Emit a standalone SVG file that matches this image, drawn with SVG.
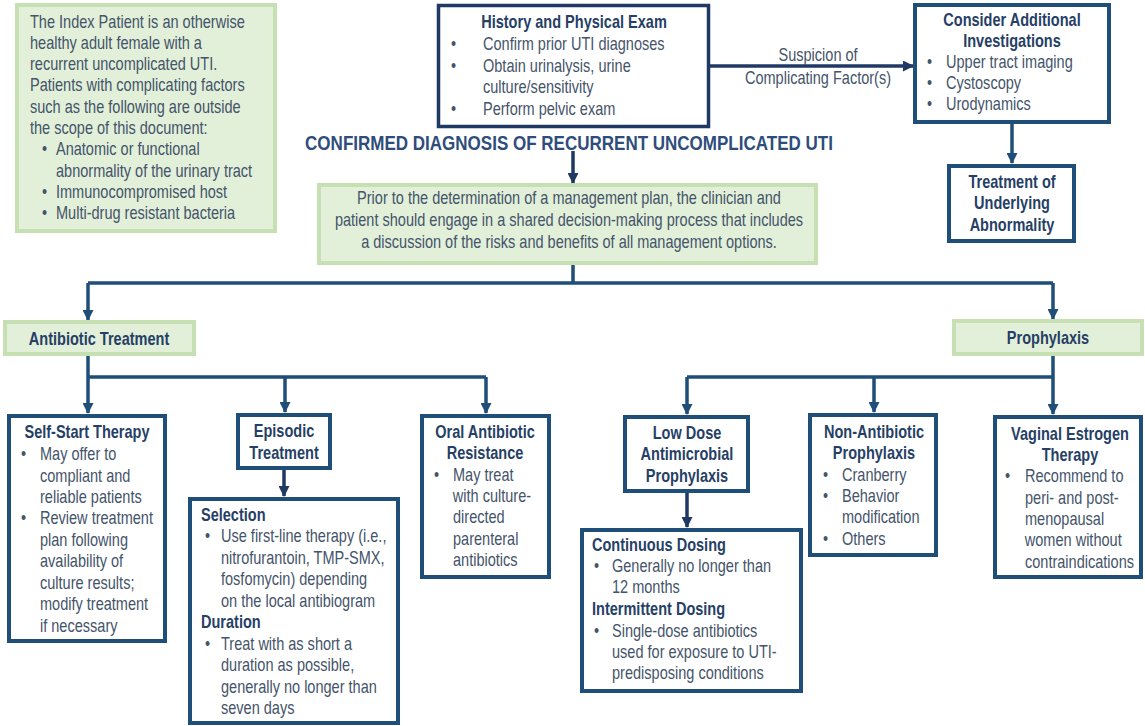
<svg xmlns="http://www.w3.org/2000/svg" width="1145" height="726" viewBox="0 0 1145 726">
<style>
text{font-family:"Liberation Sans",Arial,sans-serif;font-size:17.5px;fill:#44546a;transform-box:fill-box;transform-origin:0% 50%;transform:scaleX(.83)}
.t{font-weight:bold;fill:#263f66}
.c{text-anchor:middle;transform-origin:50% 50%}
.g{fill:#e2efd9;stroke:#c6e0b4;stroke-width:4}
.b{fill:#fff;stroke:#1f4e79;stroke-width:4}
.d{fill:#fff;stroke:#1f3864;stroke-width:3.5}
.ln{fill:none;stroke:#1f4e79;stroke-width:3.5}
.dk{fill:none;stroke:#1f3864;stroke-width:3.5}
</style>
<defs>
<marker id="ah" markerUnits="userSpaceOnUse" markerWidth="11" markerHeight="11" refX="10" refY="5.5" orient="auto"><path d="M0,0 L11,5.5 L0,11 z" fill="#1f4e79"/></marker>
<marker id="ahd" markerUnits="userSpaceOnUse" markerWidth="11" markerHeight="11" refX="10" refY="5.5" orient="auto"><path d="M0,0 L11,5.5 L0,11 z" fill="#1f3864"/></marker>
</defs>

<g id="connectors">
<path class="dk" d="M710,66 H913" marker-end="url(#ahd)"/>
<path class="ln" d="M1012,124 V163" marker-end="url(#ah)"/>
<path class="dk" d="M573,151 V183" marker-end="url(#ahd)"/>
<path class="ln" d="M573,265 V283 M88,283 H1053"/>
<path class="ln" d="M88,283 V320" marker-end="url(#ah)"/>
<path class="ln" d="M1053,283 V319" marker-end="url(#ah)"/>
<path class="ln" d="M88,355 V413" marker-end="url(#ah)"/>
<path class="ln" d="M88,377 H486"/>
<path class="ln" d="M285,377 V412" marker-end="url(#ah)"/>
<path class="ln" d="M486,377 V413" marker-end="url(#ah)"/>
<path class="dk" d="M284,470 V496" marker-end="url(#ahd)"/>
<path class="ln" d="M1053,355 V414" marker-end="url(#ah)"/>
<path class="ln" d="M687,377 H1053"/>
<path class="ln" d="M687,377 V414" marker-end="url(#ah)"/>
<path class="ln" d="M874,377 V412" marker-end="url(#ah)"/>
<path class="dk" d="M687,493 V527" marker-end="url(#ahd)"/>
<text class="c" x="818" y="61">Suspicion of</text>
<text class="c" x="818" y="84">Complicating Factor(s)</text>
</g>

<g id="index-patient">
<rect class="g" x="17" y="5" width="258" height="226"/>
<text x="30" y="28">The Index Patient is an otherwise</text>
<text x="30" y="49">healthy adult female with a</text>
<text x="30" y="70">recurrent uncomplicated UTI.</text>
<text x="30" y="91">Patients with complicating factors</text>
<text x="30" y="113">such as the following are outside</text>
<text x="30" y="134">the scope of this document:</text>
<text x="42" y="155">•</text><text x="56" y="155">Anatomic or functional</text>
<text x="56" y="177">abnormality of the urinary tract</text>
<text x="42" y="198">•</text><text x="56" y="198">Immunocompromised host</text>
<text x="42" y="219">•</text><text x="56" y="219">Multi-drug resistant bacteria</text>
</g>

<g id="history">
<rect class="d" x="438.5" y="5.5" width="270" height="121"/>
<text class="t c" x="574" y="28">History and Physical Exam</text>
<text x="451" y="50">•</text><text x="483" y="50">Confirm prior UTI diagnoses</text>
<text x="451" y="72">•</text><text x="483" y="72">Obtain urinalysis, urine</text>
<text x="483" y="93">culture/sensitivity</text>
<text x="451" y="115">•</text><text x="483" y="115">Perform pelvic exam</text>
</g>

<g id="additional">
<rect class="b" x="915" y="5" width="194" height="117"/>
<text class="t c" x="1012" y="26">Consider Additional</text>
<text class="t c" x="1012" y="47">Investigations</text>
<text x="927" y="68">•</text><text x="946" y="68">Upper tract imaging</text>
<text x="927" y="89">•</text><text x="946" y="89">Cystoscopy</text>
<text x="927" y="110">•</text><text x="946" y="110">Urodynamics</text>
</g>

<g id="underlying">
<rect class="b" x="949" y="166" width="125" height="75"/>
<text class="t c" x="1012" y="188">Treatment of</text>
<text class="t c" x="1012" y="209">Underlying</text>
<text class="t c" x="1012" y="231">Abnormality</text>
</g>

<g id="confirmed">
<text class="t c" x="569" y="150" style="font-size:20.5px;fill:#2e4d7b">CONFIRMED DIAGNOSIS OF RECURRENT UNCOMPLICATED UTI</text>
</g>

<g id="shared">
<rect class="g" x="319" y="185" width="497" height="78"/>
<text class="c" x="569" y="204">Prior to the determination of a management plan, the clinician and</text>
<text class="c" x="569" y="226">patient should engage in a shared decision-making process that includes</text>
<text class="c" x="569" y="248">a discussion of the risks and benefits of all management options.</text>
</g>

<g id="antibiotic">
<rect class="g" x="5" y="322" width="189" height="32"/>
<text class="t c" x="99" y="345">Antibiotic Treatment</text>
</g>

<g id="prophylaxis">
<rect class="g" x="954" y="321" width="188" height="33"/>
<text class="t c" x="1048" y="344">Prophylaxis</text>
</g>

<g id="self-start">
<rect class="b" x="9" y="416" width="156" height="225"/>
<text class="t c" x="87" y="438">Self-Start Therapy</text>
<text x="21" y="460">•</text><text x="40" y="460">May offer to</text>
<text x="40" y="482">compliant and</text>
<text x="40" y="503">reliable patients</text>
<text x="21" y="524">•</text><text x="40" y="524">Review treatment</text>
<text x="40" y="546">plan following</text>
<text x="40" y="567">availability of</text>
<text x="40" y="589">culture results;</text>
<text x="40" y="610">modify treatment</text>
<text x="40" y="632">if necessary</text>
</g>

<g id="episodic">
<rect class="b" x="238" y="415" width="92" height="53"/>
<text class="t c" x="284" y="437">Episodic</text>
<text class="t c" x="284" y="459">Treatment</text>
</g>

<g id="selection">
<rect class="b" x="190" y="499" width="208" height="224"/>
<text class="t" x="201" y="521">Selection</text>
<text x="205" y="542">•</text><text x="221" y="542">Use first-line therapy (i.e.,</text>
<text x="221" y="564">nitrofurantoin, TMP-SMX,</text>
<text x="221" y="585">fosfomycin) depending</text>
<text x="221" y="607">on the local antibiogram</text>
<text class="t" x="201" y="628">Duration</text>
<text x="205" y="650">•</text><text x="221" y="650">Treat with as short a</text>
<text x="221" y="671">duration as possible,</text>
<text x="221" y="693">generally no longer than</text>
<text x="221" y="714">seven days</text>
</g>

<g id="oral">
<rect class="b" x="422" y="416" width="127" height="161"/>
<text class="t c" x="485" y="438">Oral Antibiotic</text>
<text class="t c" x="485" y="459">Resistance</text>
<text x="434" y="481">•</text><text x="453" y="481">May treat</text>
<text x="453" y="502">with culture-</text>
<text x="453" y="523">directed</text>
<text x="453" y="545">parenteral</text>
<text x="453" y="566">antibiotics</text>
</g>

<g id="low-dose">
<rect class="b" x="625" y="417" width="123" height="74"/>
<text class="t c" x="687" y="439">Low Dose</text>
<text class="t c" x="687" y="460">Antimicrobial</text>
<text class="t c" x="687" y="482">Prophylaxis</text>
</g>

<g id="dosing">
<rect class="b" x="582" y="530" width="219" height="161"/>
<text class="t" x="592" y="551">Continuous Dosing</text>
<text x="594" y="572">•</text><text x="612" y="572">Generally no longer than</text>
<text x="612" y="593">12 months</text>
<text class="t" x="592" y="615">Intermittent Dosing</text>
<text x="594" y="637">•</text><text x="612" y="637">Single-dose antibiotics</text>
<text x="612" y="658">used for exposure to UTI-</text>
<text x="612" y="679">predisposing conditions</text>
</g>

<g id="non-antibiotic">
<rect class="b" x="810" y="415" width="126" height="140"/>
<text class="t c" x="874" y="438">Non-Antibiotic</text>
<text class="t c" x="874" y="459">Prophylaxis</text>
<text x="823" y="481">•</text><text x="842" y="481">Cranberry</text>
<text x="823" y="502">•</text><text x="842" y="502">Behavior</text>
<text x="842" y="523">modification</text>
<text x="823" y="545">•</text><text x="842" y="545">Others</text>
</g>

<g id="vaginal">
<rect class="b" x="995" y="417" width="146" height="160"/>
<text class="t c" x="1070" y="440">Vaginal Estrogen</text>
<text class="t c" x="1070" y="461">Therapy</text>
<text x="1005" y="482">•</text><text x="1025" y="482">Recommend to</text>
<text x="1025" y="504">peri- and post-</text>
<text x="1025" y="525">menopausal</text>
<text x="1025" y="546">women without</text>
<text x="1025" y="568">contraindications</text>
</g>
</svg>
